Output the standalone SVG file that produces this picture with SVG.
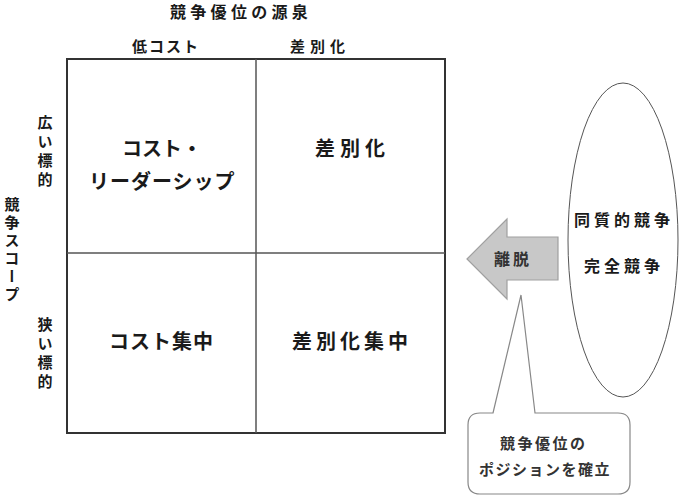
<svg xmlns="http://www.w3.org/2000/svg" width="679" height="497" viewBox="0 0 679 497">
<style>
text{font-family:"Noto Sans CJK JP","Noto Sans",sans-serif;font-weight:bold;fill:#1a1a1a;dominant-baseline:central}
.hdr{font-size:15px}
.cell{font-size:20px}
.vert{font-size:15px;writing-mode:vertical-rl}
.oval{font-size:16px;letter-spacing:4px}
.call{font-size:15px;fill:#333}
.outer{fill:#fff;stroke:#333;stroke-width:2}
.inner{stroke:#555;stroke-width:1.5;fill:none}
</style>
<rect width="679" height="497" fill="#fff"/>
<g id="titles">
<text x="170" y="11" style="font-size:16px;letter-spacing:4.3px">競争優位の源泉</text>
<text class="hdr" x="132" y="45" style="letter-spacing:2px">低コスト</text>
<text class="hdr" x="290" y="45" style="letter-spacing:5px">差別化</text>
<text class="vert" x="45" y="115" style="letter-spacing:4px">広い標的</text>
<text class="vert" x="45" y="317" style="letter-spacing:4px">狭い標的</text>
<text class="vert" x="12" y="197" style="letter-spacing:3px">競争スコープ</text>
</g>
<g id="matrix">
<rect class="outer" x="67" y="59" width="378" height="374"/>
<line class="inner" x1="256" y1="59" x2="256" y2="433"/>
<line class="inner" x1="67" y1="253" x2="445" y2="253"/>
</g>
<g id="cost-leadership">
<text class="cell" x="122" y="147">コスト・</text>
<text class="cell" x="89" y="180" style="letter-spacing:1px">リーダーシップ</text>
</g>
<g id="differentiation">
<text class="cell" x="315" y="147" style="letter-spacing:5px">差別化</text>
</g>
<g id="cost-focus">
<text class="cell" x="109" y="340" style="letter-spacing:1px">コスト集中</text>
</g>
<g id="diff-focus">
<text class="cell" x="292" y="340" style="letter-spacing:4px">差別化集中</text>
</g>
<g id="connectors">
<path d="M467,259 L507,219 L507,237 L558,237 L558,280 L507,280 L507,299 Z" fill="#c8c8c8" stroke="#a0a0a0" stroke-width="1.2"/>
</g>
<g id="exit">
<text x="494" y="258" style="font-size:16px;letter-spacing:3px;fill:#333">離脱</text>
</g>
<g id="competition">
<ellipse cx="623" cy="240" rx="55" ry="157" fill="#fff" stroke="#555" stroke-width="1"/>
<text class="oval" x="574" y="219">同質的競争</text>
<text class="oval" x="584" y="265">完全競争</text>
</g>
<g id="position">
<path d="M493,413 L521,295 L535,413 L618,413 Q630,413 630,425 L630,482 Q630,494 618,494 L480,494 Q468,494 468,482 L468,425 Q468,413 480,413 Z" fill="#fff" stroke="#888" stroke-width="1.2"/>
<text class="call" x="500" y="442" style="letter-spacing:2.5px">競争優位の</text>
<text class="call" x="479" y="468" style="letter-spacing:1.5px">ポジションを確立</text>
</g>
</svg>
